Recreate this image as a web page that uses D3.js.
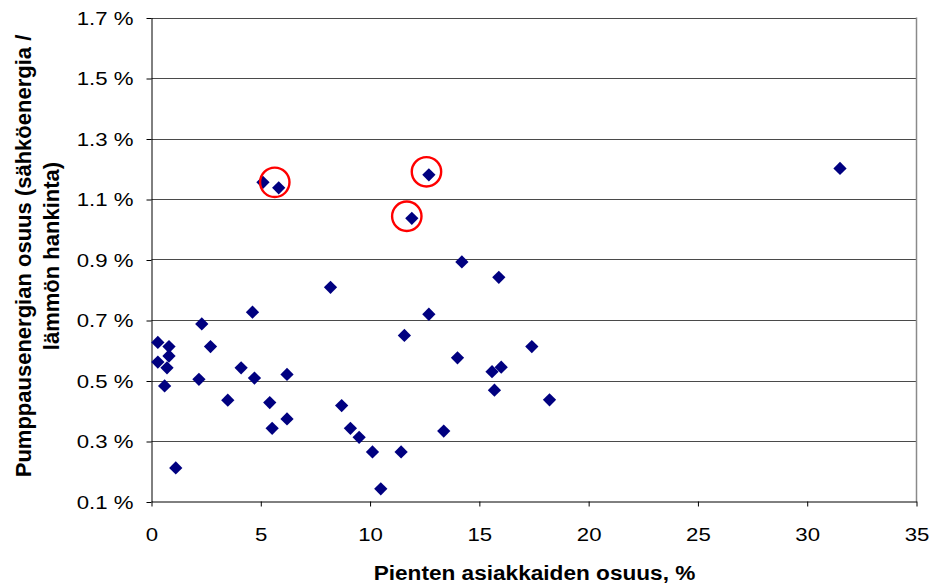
<!DOCTYPE html>
<html>
<head>
<meta charset="utf-8">
<script src="https://cdn.jsdelivr.net/npm/d3@7"></script>
<style>
  html, body { margin: 0; padding: 0; background: #fff; }
  svg { display: block; }
</style>
</head>
<body>
<svg id="chart" width="933" height="587"></svg>
<script>
// Share of small customers (%) per utility
const smallCustomerShare = [
  0.29, 0.29, 0.80, 0.80, 0.71, 0.60, 1.11, 2.30, 2.70, 2.17,
  3.49, 4.10, 4.62, 4.71, 5.41, 5.52, 6.20, 6.20, 8.19, 8.70,
  9.10, 9.50, 10.11, 10.49, 11.42, 11.57, 12.69, 14.20, 15.89, 14.00,
  17.40, 15.58, 16.00, 15.69, 18.21, 13.37, 5.10, 5.82, 12.69, 11.91,
  31.50
];
// Pumping energy share (electricity / heat procurement), %
const pumpingEnergyShare = [
  0.626, 0.561, 0.612, 0.581, 0.542, 0.482, 0.211, 0.687, 0.612, 0.504,
  0.435, 0.542, 0.726, 0.508, 0.427, 0.342, 0.520, 0.373, 0.808, 0.417,
  0.342, 0.312, 0.264, 0.142, 0.264, 0.649, 0.719, 0.892, 0.841, 0.575,
  0.612, 0.529, 0.544, 0.468, 0.436, 0.333, 1.155, 1.137, 1.180, 1.036,
  1.201
];
// Highlight rings (centre in data units)
const highlightX = [5.64, 12.58, 11.68];
const highlightY = [1.155, 1.190, 1.043];

const xTicks = [0, 5, 10, 15, 20, 25, 30, 35];
const yTicks = [0.1, 0.3, 0.5, 0.7, 0.9, 1.1, 1.3, 1.5, 1.7];

const xTitle = "Pienten asiakkaiden osuus, %";
const yTitleLines = ["Pumppausenergian osuus (sähköenergia /", "lämmön hankinta)"];

const svg = d3.select("#chart");
const plot = { left: 151.5, right: 916.5, top: 17.5, bottom: 501.5 };

const x = d3.scaleLinear().domain([0, 35]).range([plot.left, plot.right]);
const y = d3.scaleLinear().domain([0.1, 1.7]).range([plot.bottom, plot.top]);

const FONT = "'Liberation Sans', Arial, sans-serif";

svg.append("rect").attr("width", 933).attr("height", 587).attr("fill", "#fff");

// horizontal gridlines
svg.append("g")
  .selectAll("line")
  .data(yTicks.filter(d => d > 0.1))
  .join("line")
  .attr("x1", plot.left).attr("x2", plot.right)
  .attr("y1", d => Math.round(y(d)) + 0.5).attr("y2", d => Math.round(y(d)) + 0.5)
  .attr("stroke", "#4a4a4a").attr("stroke-width", 1);

// plot area right border
svg.append("line")
  .attr("x1", plot.right).attr("x2", plot.right)
  .attr("y1", plot.top).attr("y2", plot.bottom)
  .attr("stroke", "#8a8a8a").attr("stroke-width", 1.5);

// y axis
const yAxis = svg.append("g")
  .attr("transform", `translate(${plot.left},0)`)
  .call(d3.axisLeft(y).tickValues(yTicks).tickSize(5).tickSizeOuter(0)
    .tickFormat(d => d3.format(".1f")(d) + " %"));
yAxis.select(".domain").attr("stroke", "#000");
yAxis.selectAll(".tick line").attr("stroke", "#000")
  .attr("transform", "translate(0,0.5)");
yAxis.selectAll(".tick text")
  .attr("x", -15).attr("dy", "0.36em")
  .attr("transform", "scale(1.2,1)")
  .attr("font-family", FONT).attr("font-size", 18.5).attr("fill", "#000");

// x axis
const xAxis = svg.append("g")
  .attr("transform", `translate(0,${plot.bottom})`)
  .call(d3.axisBottom(x).tickValues(xTicks).tickSize(5).tickSizeOuter(0)
    .tickFormat(d3.format("d")));
xAxis.select(".domain").attr("stroke", "#000");
xAxis.selectAll(".tick line").attr("stroke", "#000");
xAxis.selectAll(".tick text")
  .attr("y", 40).attr("dy", 0)
  .attr("transform", "scale(1.2,1)")
  .attr("font-family", FONT).attr("font-size", 18.5).attr("fill", "#000");

// data markers (diamonds)
const pts = smallCustomerShare.map((v, i) => [v, pumpingEnergyShare[i]]);
const diamond = d3.symbol().type(d3.symbolSquare).size(88);
svg.append("g")
  .selectAll("path")
  .data(pts)
  .join("path")
  .attr("d", diamond)
  .attr("transform", d => `translate(${x(d[0])},${y(d[1])}) rotate(45)`)
  .attr("fill", "#000080");

// highlight rings
svg.append("g")
  .selectAll("circle")
  .data(highlightX.map((v, i) => [v, highlightY[i]]))
  .join("circle")
  .attr("cx", d => x(d[0])).attr("cy", d => y(d[1]))
  .attr("r", 14.7)
  .attr("fill", "none").attr("stroke", "#ff0000").attr("stroke-width", 2.4);

// axis titles
svg.append("text")
  .attr("transform", "translate(534.5,580) scale(1.16,1)")
  .attr("text-anchor", "middle")
  .attr("font-family", FONT).attr("font-weight", "bold").attr("font-size", 19.5)
  .text(xTitle);

svg.append("g")
  .selectAll("text")
  .data(yTitleLines)
  .join("text")
  .attr("transform", (d, i) => `translate(${31 + i * 28},256) rotate(-90)`)
  .attr("text-anchor", "middle")
  .attr("font-family", FONT).attr("font-weight", "bold").attr("font-size", 22)
  .text(d => d);
</script>
</body>
</html>
